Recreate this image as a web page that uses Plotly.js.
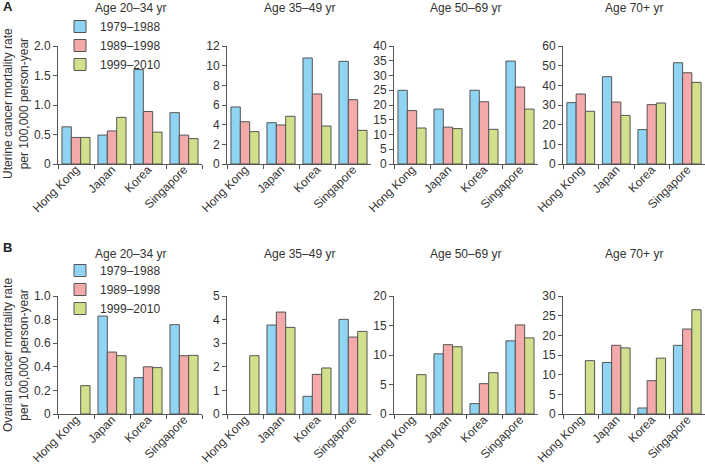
<!DOCTYPE html>
<html><head><meta charset="utf-8">
<script src="https://cdn.plot.ly/plotly-3.0.1.min.js"></script>
<style>html,body{margin:0;padding:0;background:#fff}#chart{width:705px;height:464px}</style>
</head><body><div id="chart"></div>
<script>
const countries = ["Hong Kong", "Japan", "Korea", "Singapore"];
const periods = ["1979–1988", "1989–1998", "1999–2010"];
const ageGroups = ["Age 20–34 yr", "Age 35–49 yr", "Age 50–69 yr", "Age 70+ yr"];
const periodColors = ["#8fd4f2", "#f4a9ab", "#d3e08b"];

// Uterine cancer (panel A): one array per period, values by country
const uterine_20_34 = [[0.63, 0.49, 1.60, 0.87], [0.45, 0.56, 0.89, 0.49], [0.45, 0.79, 0.54, 0.43]];
const uterine_35_49 = [[5.8, 4.2, 10.78, 10.44], [4.3, 3.97, 7.12, 6.54], [3.29, 4.85, 3.86, 3.42]];
const uterine_50_69 = [[24.97, 18.6, 25.0, 34.9], [18.1, 12.5, 21.1, 26.1], [12.2, 12.0, 11.75, 18.6]];
const uterine_70p = [[31.2, 44.4, 17.5, 51.5], [35.6, 31.5, 30.2, 46.4], [26.8, 24.7, 31.0, 41.5]];

// Ovarian cancer (panel B)
const ovarian_20_34 = [[null, 0.83, 0.308, 0.757], [null, 0.525, 0.40, 0.494], [0.24, 0.494, 0.393, 0.497]];
const ovarian_35_49 = [[null, 3.77, 0.75, 4.01], [null, 4.32, 1.68, 3.26], [2.47, 3.67, 1.95, 3.50]];
const ovarian_50_69 = [[null, 10.2, 1.75, 12.4], [null, 11.75, 5.14, 15.1], [6.67, 11.4, 7.0, 12.9]];
const ovarian_70p = [[null, 13.1, 1.53, 17.46], [null, 17.46, 8.47, 21.6], [13.56, 16.8, 14.2, 26.5]];

const topPanels = [uterine_20_34, uterine_35_49, uterine_50_69, uterine_70p];
const bottomPanels = [ovarian_20_34, ovarian_35_49, ovarian_50_69, ovarian_70p];

const topTicks = [
  {vals: [0, 0.5, 1, 1.5, 2], text: ["0", "0.5", "1.0", "1.5", "2.0"], max: 2},
  {vals: [0, 2, 4, 6, 8, 10, 12], text: ["0", "2", "4", "6", "8", "10", "12"], max: 12},
  {vals: [0, 5, 10, 15, 20, 25, 30, 35, 40], text: ["0", "5", "10", "15", "20", "25", "30", "35", "40"], max: 40},
  {vals: [0, 10, 20, 30, 40, 50, 60], text: ["0", "10", "20", "30", "40", "50", "60"], max: 60}
];
const bottomTicks = [
  {vals: [0, 0.2, 0.4, 0.6, 0.8, 1.0], text: ["0", "0.2", "0.4", "0.6", "0.8", "1.0"], max: 1},
  {vals: [0, 1, 2, 3, 4, 5], text: ["0", "1", "2", "3", "4", "5"], max: 5},
  {vals: [0, 5, 10, 15, 20], text: ["0", "5", "10", "15", "20"], max: 20},
  {vals: [0, 5, 10, 15, 20, 25, 30], text: ["0", "5", "10", "15", "20", "25", "30"], max: 30}
];

const W = 705, H = 464;
const xPix = [[58, 202], [227, 371], [394, 538], [563, 705]];
const topPix = [46, 164], botPix = [296, 414];
const FONT = "Liberation Sans, Arial, sans-serif";
const TXT = "#333";

const traces = [];
const layout = {
  width: W, height: H,
  margin: {l: 0, r: 0, t: 0, b: 0},
  paper_bgcolor: "#fff", plot_bgcolor: "#fff",
  barmode: "group", bargap: 0.22, bargroupgap: 0,
  font: {family: FONT, size: 12, color: TXT},
  annotations: [],
  legend: {x: 60 / W, xanchor: "left", y: 1 - 12 / H, yanchor: "top", bgcolor: "rgba(0,0,0,0)",
           font: {family: FONT, size: 12, color: TXT}, itemclick: false},
  legend2: {x: 60 / W, xanchor: "left", y: 1 - 256 / H, yanchor: "top", bgcolor: "rgba(0,0,0,0)",
           font: {family: FONT, size: 12, color: TXT}, itemclick: false}
};

function addRow(panels, ticks, pix, rowIdx) {
  panels.forEach((panel, p) => {
    const n = rowIdx * 4 + p + 1;
    const xa = n === 1 ? "x" : "x" + n;
    const ya = n === 1 ? "y" : "y" + n;
    panel.forEach((vals, k) => {
      traces.push({
        type: "bar", x: countries, y: vals, name: periods[k],
        xaxis: xa, yaxis: ya,
        marker: {color: periodColors[k], line: {color: "#555", width: 1}},
        showlegend: p === 0,
        legend: rowIdx === 0 ? "legend" : "legend2",
        hoverinfo: "x+y+name"
      });
    });
    const xk = n === 1 ? "xaxis" : "xaxis" + n;
    const yk = n === 1 ? "yaxis" : "yaxis" + n;
    layout[xk] = {
      domain: [xPix[p][0] / W, Math.min(1, xPix[p][1] / W)],
      anchor: ya, type: "category", range: [-0.5, 3.5],
      showline: true, linecolor: "#555", linewidth: 1,
      ticks: "outside", ticklen: 4, tickcolor: "#555", tickson: "boundaries",
      tickangle: -45, ticklabelstandoff: -7, tickfont: {family: FONT, size: 12, color: TXT},
      showgrid: false, zeroline: false, fixedrange: true
    };
    layout[yk] = {
      domain: [1 - pix[1] / H, 1 - pix[0] / H],
      anchor: xa, range: [0, ticks[p].max],
      tickvals: ticks[p].vals, ticktext: ticks[p].text,
      showline: true, linecolor: "#555", linewidth: 1,
      ticks: "outside", ticklen: 4, tickcolor: "#555",
      tickfont: {family: FONT, size: 12, color: TXT},
      showgrid: false, zeroline: false, fixedrange: true
    };
    layout.annotations.push({
      text: ageGroups[p], xref: "paper", yref: "paper",
      x: (xPix[p][0] + xPix[p][1]) / 2 / W, y: 1 - (rowIdx === 0 ? 8 : 254) / H,
      xanchor: "center", yanchor: "middle", showarrow: false,
      font: {family: FONT, size: 12, color: TXT}
    });
  });
}
addRow(topPanels, topTicks, topPix, 0);
addRow(bottomPanels, bottomTicks, botPix, 1);

layout.annotations.push(
  {text: "<b>A</b>", xref: "paper", yref: "paper", x: 1 / W, y: 1 - 7 / H, xanchor: "left", yanchor: "middle",
   showarrow: false, font: {family: FONT, size: 13, color: "#222"}},
  {text: "<b>B</b>", xref: "paper", yref: "paper", x: 1 / W, y: 1 - 248 / H, xanchor: "left", yanchor: "middle",
   showarrow: false, font: {family: FONT, size: 13, color: "#222"}},
  {text: "Uterine cancer mortality rate<br>per 100,000 person-year", xref: "paper", yref: "paper",
   x: 16 / W, y: 1 - 104 / H, xanchor: "center", yanchor: "middle", textangle: -90, showarrow: false,
   font: {family: FONT, size: 12, color: TXT}},
  {text: "Ovarian cancer mortality rate<br>per 100,000 person-year", xref: "paper", yref: "paper",
   x: 16 / W, y: 1 - 355 / H, xanchor: "center", yanchor: "middle", textangle: -90, showarrow: false,
   font: {family: FONT, size: 12, color: TXT}}
);

Plotly.newPlot("chart", traces, layout, {displayModeBar: false, staticPlot: true});
</script>
</body></html>
